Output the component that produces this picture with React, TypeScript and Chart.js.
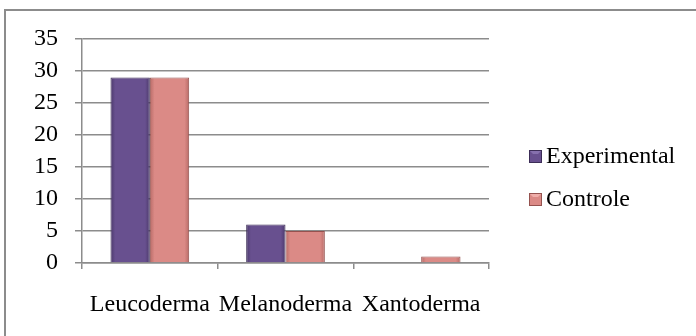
import React, { useEffect, useRef } from 'react';
import { Chart, registerables } from 'chart.js';

Chart.register(...registerables);

const categories = ['Leucoderma', 'Melanoderma', 'Xantoderma'];
const seriesNames = ['Experimental', 'Controle'];
const experimentalValues = [29, 6, 0];
const controleValues = [29, 5, 1];
const yTicks = [0, 5, 10, 15, 20, 25, 30, 35];

const FONT = "'Times New Roman', 'Liberation Serif', serif";
const FONT_SIZE = 24;
const GRID = '#8c8c8c';

type Pal = { solid: string; edge: string; mid: string; light: string; border: string };
const purple: Pal = { solid: '#614a87', edge: '#4b396b', mid: '#68508f', light: '#8670ae', border: '#3c2d57' };
const pink: Pal = { solid: '#d4827e', edge: '#b86b67', mid: '#db8a86', light: '#f0aeaa', border: '#95524f' };

function barFill(p: Pal) {
  return (c: any) => {
    const el = c.element;
    const ctx = c.chart.ctx as CanvasRenderingContext2D;
    if (!el || typeof el.x !== 'number' || typeof el.width !== 'number' || !isFinite(el.width) || el.width <= 0) return p.solid;
    const l = el.x - el.width / 2;
    const r = el.x + el.width / 2;
    const g = ctx.createLinearGradient(l, 0, r, 0);
    g.addColorStop(0, p.edge);
    g.addColorStop(0.12, p.mid);
    g.addColorStop(0.88, p.mid);
    g.addColorStop(1, p.edge);
    return g;
  };
}

// 17px wide image; the visible 13x13 square sits on its right-hand side
function makeMarker(p: Pal): HTMLCanvasElement {
  const c = document.createElement('canvas');
  c.width = 17;
  c.height = 13;
  const g = c.getContext('2d')!;
  const ox = 4;
  g.fillStyle = p.mid;
  g.fillRect(ox, 0, 13, 13);
  g.fillStyle = p.light;
  g.beginPath();
  g.moveTo(ox, 0); g.lineTo(ox + 13, 0); g.lineTo(ox + 9, 4); g.lineTo(ox + 4, 4); g.closePath();
  g.fill();
  g.strokeStyle = p.border;
  g.lineWidth = 1;
  g.strokeRect(ox + 0.5, 0.5, 12, 12);
  return c;
}

export default function App() {
  const ref = useRef<HTMLCanvasElement>(null);

  useEffect(() => {
    document.body.style.margin = '0';
    const canvas = ref.current!;
    const markers = [makeMarker(purple), makeMarker(pink)];
    const pals = [purple, pink];
    const font = { family: FONT, size: FONT_SIZE };

    // legend geometry
    const LEG_PAD = 19;
    const BOX_W = 1;
    const legendLeft = 514;
    const mctx = document.createElement('canvas').getContext('2d')!;
    mctx.font = `${FONT_SIZE}px ${FONT}`;
    const maxText = Math.max(...seriesNames.map((s) => mctx.measureText(s).width));
    const legendWidth = 10 + LEG_PAD + BOX_W + FONT_SIZE / 2 + maxText;
    const rightPad = Math.max(0, 696 - legendLeft - legendWidth);

    const chart = new Chart(canvas, {
      type: 'bar',
      data: {
        labels: categories,
        datasets: [
          {
            label: seriesNames[0],
            data: experimentalValues,
            backgroundColor: barFill(purple) as any,
            borderColor: purple.border,
            borderWidth: 1,
          },
          {
            label: seriesNames[1],
            data: controleValues,
            backgroundColor: barFill(pink) as any,
            borderColor: pink.border,
            borderWidth: 1,
          },
        ],
      },
      options: {
        responsive: false,
        animation: false,
        events: [],
        layout: { padding: { top: 39, bottom: 19, left: 0, right: rightPad } },
        datasets: { bar: { categoryPercentage: 0.58, barPercentage: 1 } },
        scales: {
          x: {
            grid: { drawOnChartArea: false, drawTicks: true, tickLength: 6, color: GRID, lineWidth: 1.5, offset: true },
            border: { display: true, color: GRID, width: 1.5 },
            ticks: { color: '#000', font, padding: 21, maxRotation: 0, autoSkip: false },
            afterFit: (s: any) => { s.height = 54; },
          },
          y: {
            min: yTicks[0],
            max: yTicks[yTicks.length - 1],
            afterBuildTicks: (s: any) => { s.ticks = yTicks.map((v) => ({ value: v })); },
            ticks: { color: '#000', font, padding: 17 },
            grid: { color: GRID, lineWidth: 1.5, tickLength: 7 },
            border: { display: true, color: GRID, width: 1.5 },
            afterFit: (s: any) => { s.width = 82; },
          },
          y2: {
            position: 'right',
            display: true,
            grid: { display: false },
            ticks: { display: false },
            border: { display: false },
            afterFit: (s: any) => { s.width = legendLeft - 489; },
          },
        },
        plugins: {
          tooltip: { enabled: false },
          legend: {
            position: 'right',
            align: 'center',
            maxWidth: 400,
            labels: {
              usePointStyle: true,
              boxWidth: BOX_W,
              boxHeight: 13,
              padding: LEG_PAD,
              color: '#000',
              font,
              generateLabels: (ch: any) =>
                ch.data.datasets.map((ds: any, i: number) => ({
                  text: ds.label,
                  fillStyle: pals[i].solid,
                  strokeStyle: pals[i].border,
                  lineWidth: 0,
                  pointStyle: markers[i],
                  datasetIndex: i,
                  hidden: false,
                  fontColor: '#000',
                })),
            },
          },
        },
      } as any,
    });
    chart.update();

    return () => chart.destroy();
  }, []);

  return (
    <div style={{ position: 'relative', width: 696, height: 336, overflow: 'hidden', background: '#fff' }}>
      <div
        style={{
          position: 'absolute',
          left: 4,
          top: 9,
          width: 760,
          height: 400,
          borderLeft: '2px solid #8c8c8c',
          borderTop: '2px solid #8c8c8c',
        }}
      />
      <canvas ref={ref} width={696} height={336} style={{ position: 'absolute', left: 0, top: 0 }} />
    </div>
  );
}
